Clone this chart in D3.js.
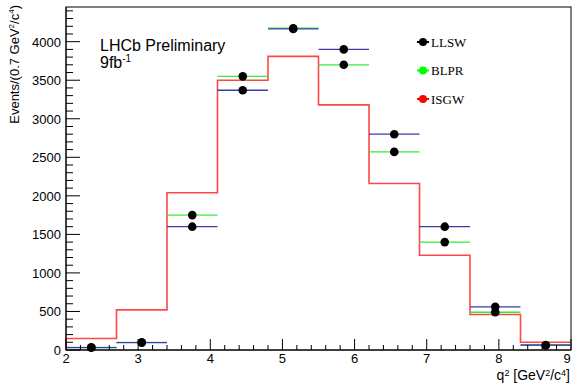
<!DOCTYPE html>
<html>
<head>
<meta charset="utf-8">
<script src="https://cdn.jsdelivr.net/npm/d3@7"></script>
<style>
  body { margin: 0; background: #fff; }
  svg { display: block; }
  text { font-family: "Liberation Sans", Arial, sans-serif; }
  text.serif { font-family: "Liberation Serif", "Times New Roman", serif; }
</style>
</head>
<body>
<div id="main"></div>
<script>
// bin edges (GeV^2/c^4), width 0.7
var binEdges = [2, 2.7, 3.4, 4.1, 4.8, 5.5, 6.2, 6.9, 7.6, 8.3, 9];
// ISGW histogram (red)
var isgw = [150, 520, 2040, 3500, 3810, 3180, 2160, 1230, 460, 100];
// LLSW points (blue error bars)
var llsw = [30, 95, 1600, 3370, 4165, 3900, 2800, 1600, 560, 65];
var llswErr = [10, 15, 35, 45, 50, 50, 40, 35, 20, 10];
// BLPR points (green error bars)
var blpr = [35, 100, 1750, 3550, 4175, 3700, 2570, 1400, 490, 60];
var blprErr = [10, 15, 35, 45, 50, 50, 40, 35, 20, 10];
var legendNames = ["LLSW", "BLPR", "ISGW"];
var legendColors = ["#000000", "#00ff00", "#ff0000"];
var xTicks = [2, 3, 4, 5, 6, 7, 8, 9];
var yTicks = [0, 500, 1000, 1500, 2000, 2500, 3000, 3500, 4000];

var W = 572, H = 383;
var m = { left: 66, right: 1, top: 7, bottom: 33 };

var svg = d3.select("#main").append("svg")
  .attr("width", W).attr("height", H);

var x = d3.scaleLinear().domain([2, 9]).range([m.left, W - m.right]);
var y = d3.scaleLinear().domain([0, 4450]).range([H - m.bottom, m.top]);

var centers = binEdges.slice(0, -1).map(function(e, i) {
  return (e + binEdges[i + 1]) / 2;
});

// frame
svg.append("rect")
  .attr("x", x(2)).attr("y", y(4450))
  .attr("width", x(9) - x(2)).attr("height", y(0) - y(4450))
  .attr("fill", "none").attr("stroke", "#000").attr("stroke-width", 1);

// red histogram
var hist = [];
isgw.forEach(function(v, i) {
  hist.push([binEdges[i], v]);
  hist.push([binEdges[i + 1], v]);
});
var histLine = d3.line()
  .x(function(d) { return x(d[0]); })
  .y(function(d) { return y(d[1]); });
svg.append("path")
  .datum([[2, 0]].concat(hist))
  .attr("d", histLine)
  .attr("fill", "none")
  .attr("stroke", "#ff3333")
  .attr("stroke-opacity", 0.9)
  .attr("stroke-width", 1.6);

function drawPoints(vals, errs, color) {
  var g = svg.append("g");
  vals.forEach(function(v, i) {
    g.append("line")
      .attr("x1", x(binEdges[i])).attr("x2", x(binEdges[i + 1]))
      .attr("y1", y(v)).attr("y2", y(v))
      .attr("stroke", color).attr("stroke-width", 1.3);
    g.append("line")
      .attr("x1", x(centers[i])).attr("x2", x(centers[i]))
      .attr("y1", y(v - errs[i])).attr("y2", y(v + errs[i]))
      .attr("stroke", color).attr("stroke-width", 1.3);
    g.append("circle")
      .attr("cx", x(centers[i])).attr("cy", y(v))
      .attr("r", 4.3).attr("fill", "#000");
  });
}
drawPoints(blpr, blprErr, "#33ee33");
drawPoints(llsw, llswErr, "#3b3bb0");

// axes
var yAxis = svg.append("g").attr("transform", "translate(" + x(2) + ",0)");
yAxis.append("line")
  .attr("x1", 0).attr("x2", 0).attr("y1", y(0)).attr("y2", y(4450))
  .attr("stroke", "#000");
d3.range(0, 4451, 100).forEach(function(v) {
  var major = v % 500 === 0;
  yAxis.append("line")
    .attr("x1", 0).attr("x2", major ? 14 : 7)
    .attr("y1", y(v)).attr("y2", y(v))
    .attr("stroke", "#000");
});
yAxis.selectAll("text.tl").data(yTicks).enter().append("text")
  .attr("x", -5).attr("y", function(d) { return y(d) + 5; })
  .attr("text-anchor", "end")
  .attr("font-size", 13)
  .text(function(d) { return d; });

var xAxis = svg.append("g");
xAxis.append("line")
  .attr("x1", x(2)).attr("x2", x(9)).attr("y1", y(0)).attr("y2", y(0))
  .attr("stroke", "#000");
d3.range(0, 36).forEach(function(k) {
  var v = 2 + k * 0.2;
  var major = k % 5 === 0;
  xAxis.append("line")
    .attr("x1", x(v)).attr("x2", x(v))
    .attr("y1", y(0)).attr("y2", y(0) - (major ? 11 : 5))
    .attr("stroke", "#000");
});
xAxis.selectAll("text.tl").data(xTicks).enter().append("text")
  .attr("x", function(d) { return d === 9 ? x(d) - 4 : x(d); })
  .attr("y", y(0) + 13)
  .attr("text-anchor", "middle")
  .attr("font-size", 13)
  .text(function(d) { return d; });

// axis titles
var xt = svg.append("text")
  .attr("x", W - 2).attr("y", 380)
  .attr("text-anchor", "end").attr("font-size", 14);
xt.append("tspan").text("q");
xt.append("tspan").attr("dy", -4).attr("font-size", 9).text("2");
xt.append("tspan").attr("dy", 4).text(" [GeV");
xt.append("tspan").attr("dy", -4).attr("font-size", 9).text("2");
xt.append("tspan").attr("dy", 4).text("/c");
xt.append("tspan").attr("dy", -4).attr("font-size", 9).text("4");
xt.append("tspan").attr("dy", 4).text("]");

var yt = svg.append("text")
  .attr("transform", "translate(19,5) rotate(-90)")
  .attr("text-anchor", "end").attr("font-size", 13);
yt.append("tspan").text("Events/(0.7 GeV");
yt.append("tspan").attr("dy", -5).attr("font-size", 8).text("2");
yt.append("tspan").attr("dy", 5).text("/c");
yt.append("tspan").attr("dy", -5).attr("font-size", 8).text("4");
yt.append("tspan").attr("dy", 5).text(")");

// label
svg.append("text").attr("x", 100).attr("y", 51)
  .attr("font-size", 16).text("LHCb Preliminary");
var lum = svg.append("text").attr("x", 100).attr("y", 68).attr("font-size", 16);
lum.append("tspan").text("9fb");
lum.append("tspan").attr("dy", -6).attr("font-size", 10).text("-1");

// legend
var leg = svg.append("g").selectAll("g").data(legendNames).enter().append("g")
  .attr("transform", function(d, i) { return "translate(423," + (42 + i * 28.5) + ")"; });
leg.append("line")
  .attr("x1", -6).attr("x2", 6).attr("y1", 0).attr("y2", 0)
  .attr("stroke", function(d, i) { return legendColors[i]; })
  .attr("stroke-width", 2);
leg.append("circle").attr("r", 4)
  .attr("fill", function(d, i) { return legendColors[i]; });
leg.append("text").attr("class", "serif").attr("x", 8).attr("y", 4.5)
  .attr("font-size", 13)
  .text(function(d) { return d; });
</script>
</body>
</html>
